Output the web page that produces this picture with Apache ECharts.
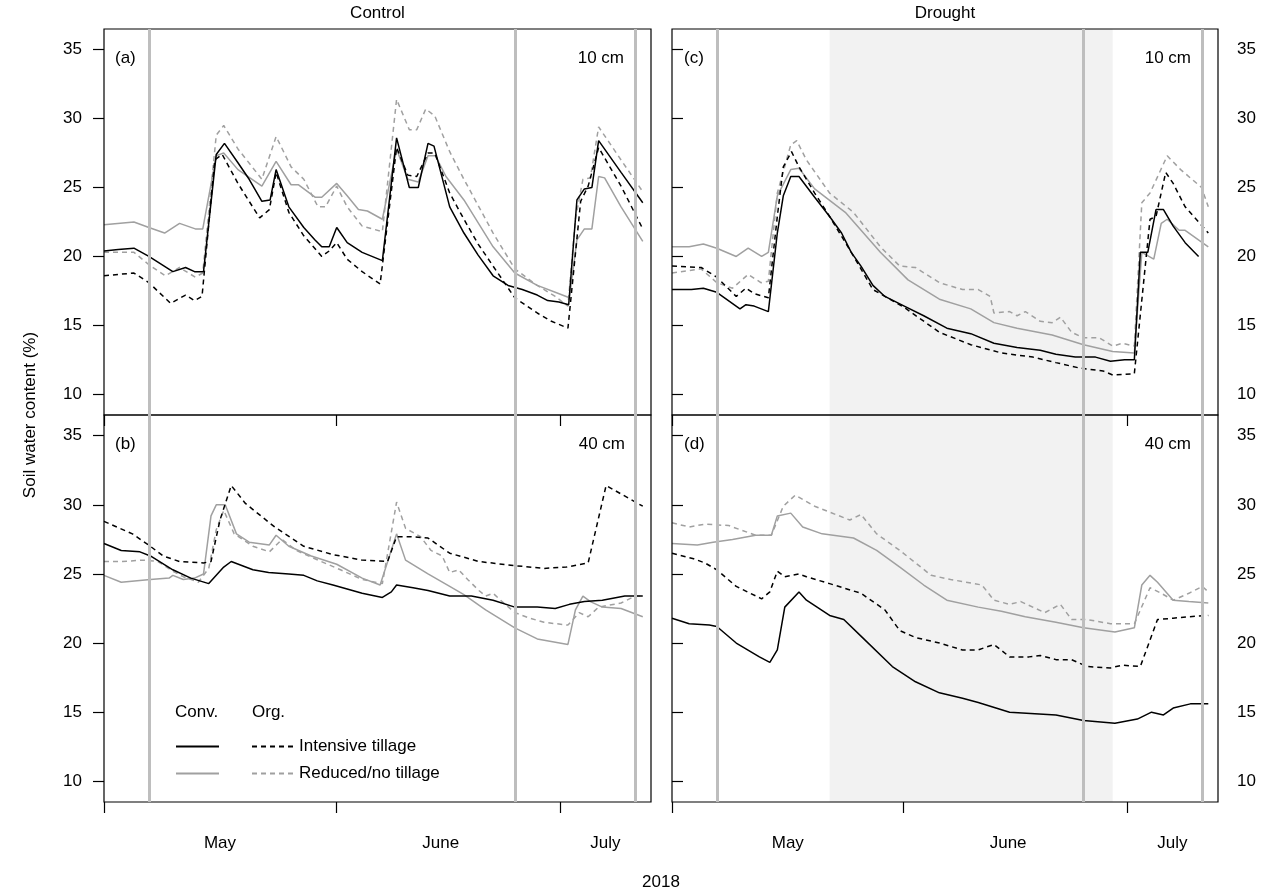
<!DOCTYPE html>
<html><head><meta charset="utf-8">
<script src="https://cdn.jsdelivr.net/npm/echarts@6/dist/echarts.min.js"></script>
<style>html,body{margin:0;padding:0;background:#fff}#c{width:1277px;height:896px}</style>
</head><body><div id="c"></div>
<script>
// ---- axis / annotation data ----
const monthTicks = [0, 31, 61];            // days since 1 May
const monthLabelPos = [15.5, 45, 67];
const monthNames = ['May', 'June', 'July'];
const yTicks = [10, 15, 20, 25, 30, 35];
const sampleDays = [6, 55, 71];
const droughtPeriod = [21.1, 59];
const panelLetters = ['(a)', '(b)', '(c)', '(d)'];
const depthLabels = ['10 cm', '40 cm', '10 cm', '40 cm'];
const treatmentTitles = ['Control', 'Drought'];

// ---- series data: [day since 1 May, soil water content %] ----
// (a) Control 10 cm
const a_convInt = [[0,20.4],[1.9,20.5],[4,20.6],[6,20.0],[9.2,18.9],[10.9,19.2],[12.1,18.9],[13.3,18.9],[15,27.4],[16.1,28.2],[17.9,26.8],[19.4,25.6],[21.1,24.0],[22.2,24.1],[23,26.3],[24.7,23.6],[26.7,22.1],[28.2,21.2],[29.1,20.7],[30.1,20.7],[31.1,22.1],[32.5,21.0],[34.5,20.3],[37.2,19.7],[39.1,28.6],[40.8,25.0],[42,25.0],[43.3,28.2],[44.1,28.0],[46.2,23.6],[48.1,21.7],[50,20.1],[52,18.6],[54,17.9],[55.9,17.6],[57.9,17.2],[59.3,16.8],[60.8,16.7],[62.1,16.5],[63.2,24.1],[64.2,24.9],[65.2,25.0],[66.1,28.4],[69.1,26.1],[72,23.9]];
const a_orgInt = [[0,18.6],[4,18.8],[6,18.1],[8.9,16.6],[10.9,17.2],[12.1,16.8],[13.1,17.1],[14.8,27.0],[15.8,27.4],[17.9,25.3],[19.4,24.0],[20.8,22.8],[22.1,23.4],[23,26.1],[24.7,23.2],[26.7,21.5],[29.1,20.0],[30.1,20.4],[31.1,21.0],[32.5,19.8],[34.5,18.9],[36.9,18.0],[39.1,27.9],[40.6,25.9],[41.8,25.8],[43.3,27.5],[44.2,27.5],[46.2,24.6],[48.1,22.7],[50,20.9],[52,19.3],[54.9,17.0],[57.9,15.9],[59.8,15.3],[62,14.8],[63.7,24.0],[64.7,25.1],[66.1,27.9],[69.1,25.1],[72,22.0]];
const a_convRed = [[0,22.3],[4,22.5],[6,22.1],[8.1,21.7],[10.1,22.4],[12.2,22.0],[13.2,22.0],[15,27.3],[16,27.5],[17.9,26.3],[21.1,25.1],[23,26.9],[25,25.2],[26,25.2],[28.2,24.3],[29.1,24.3],[31.1,25.3],[32.5,24.4],[34,23.4],[35.2,23.3],[37.2,22.7],[39.1,27.8],[40.6,25.6],[42,25.4],[43.3,27.3],[44.3,27.3],[45.7,25.8],[48.1,24.1],[52,20.7],[54.9,18.8],[57.9,17.9],[60.3,17.4],[62.2,17.0],[63.2,21.2],[64.2,22.0],[65.2,22.0],[66.1,25.8],[66.9,25.7],[69.1,23.6],[72,21.1]];
const a_orgRed = [[0,20.3],[4,20.3],[6,19.4],[8.2,18.6],[10.1,19.2],[12.2,18.5],[13.2,18.8],[15,28.8],[16,29.5],[17.9,27.8],[21.1,25.6],[23,28.7],[25,26.5],[26.7,25.6],[28.6,23.6],[29.6,23.6],[31.1,25.1],[32.5,23.6],[34.5,22.2],[37.2,21.8],[39.1,31.4],[40.8,29.2],[41.8,29.2],[43,30.7],[44.2,30.2],[46.2,27.6],[48.1,25.6],[52,21.7],[54.9,19.1],[57.9,17.9],[60.3,17.1],[62,16.4],[63,22.7],[64,25.6],[65,25.7],[66.1,29.4],[69.1,27.0],[72,24.7]];
// (b) Control 40 cm
const b_convInt = [[0,27.2],[2.3,26.7],[4.8,26.6],[6.2,26.3],[9.2,25.3],[11.6,24.7],[14,24.3],[16,25.5],[17,25.9],[19.9,25.3],[22,25.1],[24.7,25.0],[26.7,24.9],[28.5,24.5],[30.6,24.2],[34.5,23.6],[37.2,23.3],[38.4,23.7],[39.1,24.2],[41.3,24.0],[43.3,23.8],[46.2,23.4],[49.1,23.4],[52,23.1],[54.9,22.6],[57.9,22.6],[60.3,22.5],[62.2,22.8],[64.2,23.0],[66.6,23.1],[69.6,23.4],[72,23.4]];
const b_orgInt = [[0,28.8],[3.8,27.9],[6.2,27.0],[7.9,26.3],[10.1,25.9],[13.3,25.8],[14.3,25.9],[15.5,28.9],[17,31.4],[18.9,30.1],[22.8,28.4],[26.7,27.0],[30.6,26.4],[34.5,26.0],[37.9,25.9],[39.1,27.7],[40.8,27.7],[43.3,27.6],[46.2,26.5],[50.1,25.9],[54.9,25.6],[58.8,25.4],[61.8,25.5],[64.7,25.8],[67.1,31.4],[72,29.9]];
const b_convRed = [[0,24.9],[2.3,24.4],[6.2,24.6],[8.7,24.7],[9.2,24.9],[10.6,24.6],[12.1,24.7],[13.3,25.0],[14.3,29.2],[15,30.0],[16.2,30.0],[17.7,27.9],[19.4,27.3],[22.1,27.1],[23,27.8],[24.7,27.0],[27.7,26.3],[31.1,25.7],[34.5,24.7],[36.9,24.2],[39.1,27.9],[40.3,26.0],[43.3,25.0],[46.2,24.1],[48.1,23.5],[51,22.4],[54.9,21.1],[57.9,20.3],[62,19.9],[63,22.4],[64,23.4],[65,23.0],[66.6,22.6],[69.1,22.5],[72,21.9]];
const b_orgRed = [[0,25.9],[2.3,25.9],[5.3,26.0],[7.2,25.9],[9.2,25.2],[10.6,24.8],[12.6,24.4],[14,25.4],[15,28.2],[16,29.6],[17.4,27.9],[19.9,27.0],[22.1,26.6],[23.8,27.5],[25.7,26.7],[28.6,26.0],[31.6,25.3],[34.5,24.6],[37.2,24.3],[39.1,30.2],[40.3,28.3],[42.3,27.7],[43.7,26.7],[45.2,26.3],[46.2,25.1],[47.4,25.3],[48.6,24.6],[50.1,23.8],[51,23.4],[52,23.6],[53,23.1],[54.9,22.2],[56.9,21.8],[58.8,21.5],[62,21.3],[63.5,22.2],[64.7,21.9],[66.1,22.6],[69.1,22.9],[71,23.4],[72,23.4]];
// (c) Drought 10 cm
const c_convInt = [[0,17.6],[2.6,17.6],[4.2,17.7],[6,17.4],[9.1,16.2],[9.9,16.5],[11,16.4],[12.9,16.0],[14.1,21.7],[14.9,24.4],[15.9,25.8],[17,25.8],[19.1,24.3],[21.1,22.9],[22.7,21.7],[24,20.3],[25.3,19.3],[26.9,17.9],[28.5,17.1],[31.1,16.4],[33.7,15.7],[36.8,14.8],[40,14.4],[43.1,13.7],[46.2,13.4],[49.3,13.2],[51.4,12.9],[54,12.7],[56.7,12.7],[58.7,12.4],[60.6,12.5],[61.9,12.5],[62.7,20.3],[63.7,20.3],[64.8,23.4],[65.8,23.4],[67.1,22.2],[68.7,21.0],[70.5,20.0]];
const c_orgInt = [[0,19.3],[3.9,19.2],[6,18.5],[8.6,17.1],[9.9,17.7],[11,17.3],[12.9,17.0],[14.1,22.9],[14.9,26.5],[16,27.6],[17,26.5],[19.1,24.6],[21.1,22.9],[24,20.3],[26.9,17.6],[31.1,16.3],[35.8,14.5],[40,13.6],[44.1,13.0],[48.3,12.7],[51.4,12.3],[54.6,11.9],[57.7,11.7],[59,11.4],[61.9,11.5],[64,22.7],[64.8,22.9],[66.1,26.1],[67.1,25.3],[68.7,23.6],[71.8,21.7]];
const c_convRed = [[0,20.7],[2.3,20.7],[4.2,20.9],[6,20.6],[8.6,20.0],[10.2,20.6],[12,20.0],[12.9,20.3],[14.1,24.4],[15.9,26.3],[17,26.4],[19.1,24.9],[23.2,23.2],[27.9,20.3],[31.6,18.3],[35.8,16.9],[40,16.2],[43.1,15.2],[46.2,14.8],[50.9,14.3],[55.1,13.6],[59,13.1],[61.9,13.0],[62.9,20.3],[64.5,19.8],[65.5,22.4],[66.3,22.7],[67.9,21.9],[68.7,21.9],[71.8,20.7]];
const c_orgRed = [[0,18.8],[3.9,19.1],[6,18.1],[8.1,17.7],[10.2,18.7],[11.9,18.1],[12.9,18.2],[14.1,24.6],[15.9,28.1],[16.7,28.4],[18,27.0],[21.1,24.6],[24.3,23.2],[27.9,20.7],[30.5,19.3],[32.6,19.2],[35.8,18.1],[38.9,17.6],[41,17.6],[42.6,17.1],[43.1,15.9],[45.2,16.0],[46.2,15.7],[47.3,16.0],[49.3,15.3],[50.9,15.2],[52,15.6],[53.5,14.5],[55.1,14.1],[57.2,14.1],[59,13.5],[60.3,13.7],[61.9,13.5],[62.9,23.9],[64,24.6],[66.3,27.3],[68.1,26.3],[70.9,25.0],[71.8,23.6]];
// (d) Drought 40 cm
const d_convInt = [[0,21.8],[2.3,21.4],[5,21.3],[6,21.2],[8.6,20.0],[11.7,19.0],[13.1,18.6],[14.1,19.5],[15.1,22.6],[17,23.7],[18,23.1],[21.1,22.0],[23,21.7],[25.3,20.5],[29.5,18.3],[32.6,17.2],[35.8,16.4],[38.9,16.0],[41,15.7],[45.2,15.0],[51.4,14.8],[55.1,14.4],[59.3,14.2],[62.3,14.5],[64.2,15.0],[65.8,14.8],[67.1,15.3],[69.4,15.6],[71.8,15.6]];
const d_orgInt = [[0,26.5],[2.9,26.1],[4.4,25.8],[6,25.3],[8.6,24.1],[12,23.2],[13.1,23.7],[14.1,25.2],[15.1,24.8],[17,25.0],[18,24.8],[21.1,24.3],[25.3,23.6],[28.5,22.4],[30.5,20.9],[32.6,20.4],[35.8,20.0],[38.9,19.5],[41,19.5],[43.1,19.9],[45.2,19.0],[47.8,19.0],[49.3,19.1],[51.4,18.8],[53.5,18.8],[55.6,18.3],[58.7,18.2],[60.3,18.4],[62.7,18.3],[65,21.7],[67.1,21.8],[69.2,21.9],[71.8,22.0]];
const d_convRed = [[0,27.2],[3.4,27.1],[5.5,27.3],[8.1,27.5],[11.2,27.8],[13.3,27.8],[14.1,29.2],[15.9,29.4],[17.5,28.4],[20.1,27.9],[24.3,27.6],[27.4,26.7],[30.5,25.5],[33.7,24.2],[36.8,23.1],[41,22.6],[44.1,22.3],[47.3,21.9],[51.4,21.5],[55.1,21.1],[59.3,20.8],[61.9,21.1],[62.9,24.2],[64,24.9],[65,24.4],[67.1,23.1],[69.2,23.0],[71.8,22.9]];
const d_orgRed = [[0,28.7],[2.3,28.4],[4.4,28.6],[7.6,28.5],[11.2,27.8],[13.3,27.8],[14.9,29.9],[16.5,30.7],[19.1,29.9],[23.8,28.9],[25.3,29.3],[27.4,27.9],[30.5,26.7],[34.7,24.9],[37.3,24.6],[41.5,24.2],[43.1,23.1],[45.2,22.8],[46.7,23.0],[49.9,22.2],[52,22.8],[53.5,21.7],[55.6,21.7],[58.7,21.4],[61.9,21.4],[64,24.0],[65.5,23.6],[67.1,23.1],[69.2,23.6],[71,24.1],[71.8,23.7]];

const panels = [
  {convInt: a_convInt, orgInt: a_orgInt, convRed: a_convRed, orgRed: a_orgRed, drought: false, bottom: false, right: false},
  {convInt: b_convInt, orgInt: b_orgInt, convRed: b_convRed, orgRed: b_orgRed, drought: false, bottom: true, right: false},
  {convInt: c_convInt, orgInt: c_orgInt, convRed: c_convRed, orgRed: c_orgRed, drought: true, bottom: false, right: true},
  {convInt: d_convInt, orgInt: d_orgInt, convRed: d_convRed, orgRed: d_orgRed, drought: true, bottom: true, right: true}
];

const FONT = '"Liberation Sans", Arial, Helvetica, sans-serif';
const GRAYLINE = '#a0a0a0';
const gridPos = [
  {left: 104, top: 29, width: 547, height: 386},
  {left: 104, top: 415, width: 547, height: 387},
  {left: 672, top: 29, width: 546, height: 386},
  {left: 672, top: 415, width: 546, height: 387}
];

const grid = gridPos.map(g => Object.assign({show: true, borderColor: '#000', borderWidth: 1.2, backgroundColor: 'transparent', z: 5}, g));

const xAxis = panels.map((p, i) => ({
  type: 'value', gridIndex: i, min: 0, max: 73.1,
  axisLine: {show: false}, splitLine: {show: false},
  axisTick: {show: true, customValues: monthTicks, length: 11, lineStyle: {color: '#000', width: 1.2}},
  axisLabel: {show: p.bottom, customValues: monthLabelPos, margin: 33, fontSize: 17, fontFamily: FONT, color: '#000',
    formatter: v => { const k = monthLabelPos.findIndex(m => Math.abs(m - v) < 0.01); return k >= 0 ? monthNames[k] : ''; }}
}));

const yAxis = panels.map((p, i) => ({
  type: 'value', gridIndex: i, min: 8.5, max: 36.5, position: p.right ? 'right' : 'left',
  axisLine: {show: false}, splitLine: {show: false},
  axisTick: {show: true, customValues: yTicks, length: 11, lineStyle: {color: '#000', width: 1.2}},
  axisLabel: {show: true, customValues: yTicks, margin: p.right ? 19 : 22, fontSize: 17, fontFamily: FONT, color: '#000'}
}));

const series = [];
panels.forEach((p, i) => {
  if (p.drought) {
    series.push({type: 'line', xAxisIndex: i, yAxisIndex: i, data: [], z: 1, silent: true,
      markArea: {silent: true, itemStyle: {color: '#f2f2f2'}, data: [[{xAxis: droughtPeriod[0]}, {xAxis: droughtPeriod[1]}]]}});
  }
  series.push({type: 'line', xAxisIndex: i, yAxisIndex: i, data: [], z: 2, silent: true,
    markLine: {silent: true, symbol: ['none', 'none'], label: {show: false},
      lineStyle: {color: '#bebebe', width: 3, type: 'solid'},
      data: sampleDays.map(d => ({xAxis: d}))}});
  const defs = [
    ['orgRed', p.orgRed, GRAYLINE, [5, 4]],
    ['convRed', p.convRed, GRAYLINE, 'solid'],
    ['orgInt', p.orgInt, '#000', [5, 4]],
    ['convInt', p.convInt, '#000', 'solid']
  ];
  defs.forEach(([name, data, color, type]) => {
    series.push({name, type: 'line', xAxisIndex: i, yAxisIndex: i, data, z: 3,
      symbol: 'none', showSymbol: false, smooth: false,
      lineStyle: {color, width: 1.5, type}, itemStyle: {color}});
  });
});

const legendNames = {orgInt: 'Intensive tillage', orgRed: 'Reduced/no tillage'};
const legendCommon = {top: 738, padding: 0, orient: 'vertical', itemHeight: 18, itemGap: 10, selectedMode: false,
  itemStyle: {opacity: 0, borderWidth: 0}, textStyle: {fontSize: 17, fontFamily: FONT, color: '#000'}};
const legend = [
  Object.assign({data: ['convInt', 'convRed'], left: 175, itemWidth: 43, formatter: () => ' '}, legendCommon),
  Object.assign({data: ['orgInt', 'orgRed'], left: 251, itemWidth: 42, formatter: n => legendNames[n]}, legendCommon)
];

function txt(text, x, y, align, extra) {
  return Object.assign({type: 'text', x, y, z: 10,
    style: {text, fill: '#000', font: '17px ' + FONT, textAlign: align, textVerticalAlign: 'middle'}}, extra || {});
}
const labelPos = [[115, 58, 624], [115, 444, 625], [684, 58, 1191], [684, 444, 1191]];
const graphic = [];
labelPos.forEach((lp, i) => {
  graphic.push(txt(panelLetters[i], lp[0], lp[1], 'left'));
  graphic.push(txt(depthLabels[i], lp[2], lp[1], 'right'));
});
graphic.push(txt(treatmentTitles[0], 377.5, 13, 'center'));
graphic.push(txt(treatmentTitles[1], 945, 13, 'center'));
graphic.push(txt('Conv.', 175, 712, 'left'));
graphic.push(txt('Org.', 252, 712, 'left'));
graphic.push(txt('2018', 661, 882, 'center'));
graphic.push(txt('Soil water content (%)', 30, 415, 'center', {rotation: Math.PI / 2}));

const chart = echarts.init(document.getElementById('c'), null, {renderer: 'canvas'});
chart.setOption({animation: false, backgroundColor: '#fff', grid, xAxis, yAxis, series, legend, graphic});
</script>
</body></html>
